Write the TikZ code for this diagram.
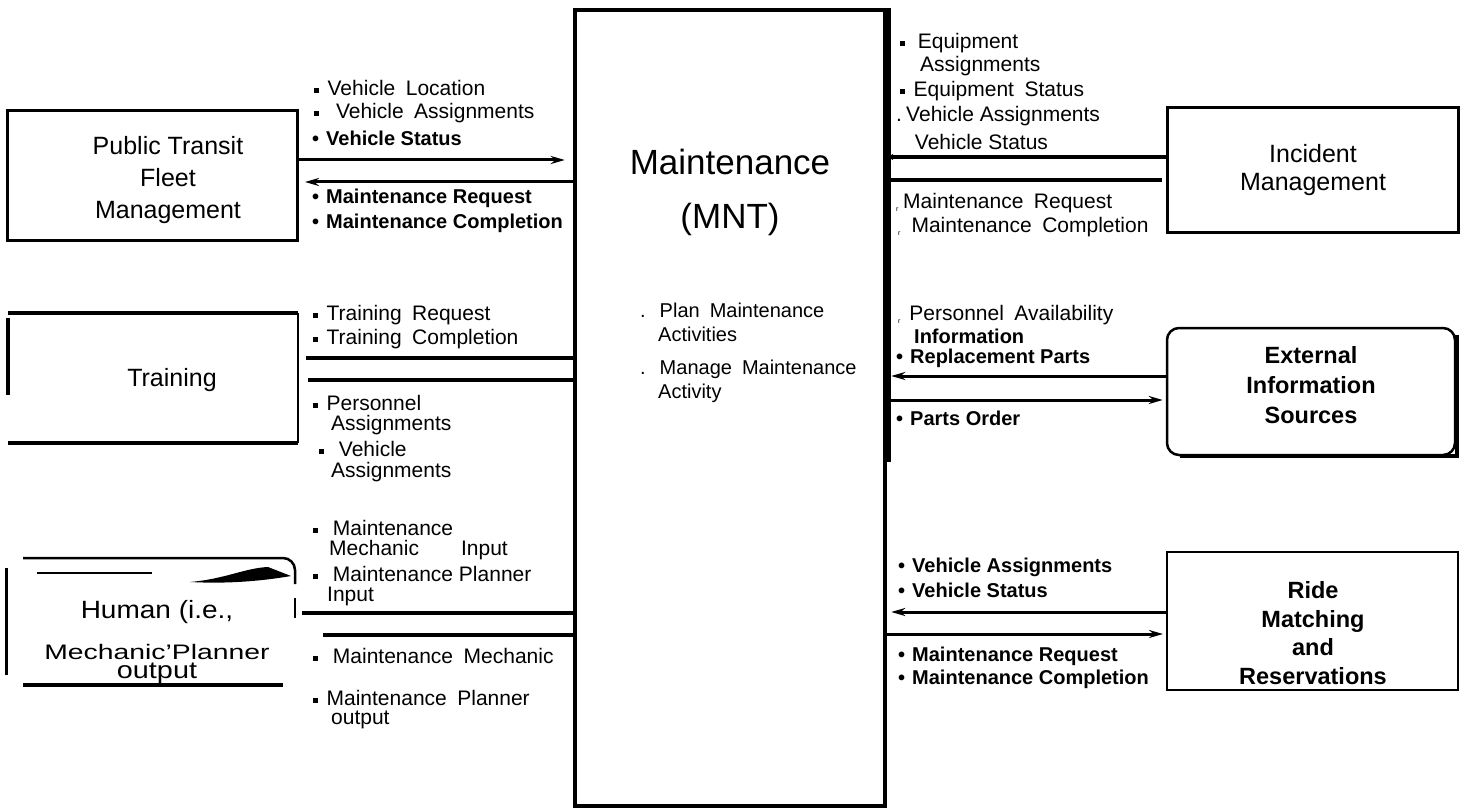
\documentclass[tikz,border=0pt]{standalone}
\usepackage{fontspec}
\setmainfont{Liberation Sans}
\usetikzlibrary{arrows.meta}
\newcommand{\sqb}{\rule[0.12em]{0.24em}{0.24em}\hspace{0.4em}}
\newcommand{\rdb}{\textbullet\hspace{0.35em}}
\begin{document}
\begin{tikzpicture}[x=1pt,y=-1pt,
  box/.style={draw, line width=3pt, inner sep=0pt},
  ttl/.style={inner sep=0pt, align=center, font=\fontsize{25}{32}\selectfont},
  bttl/.style={inner sep=0pt, align=center, font=\fontsize{23.5}{30}\selectfont\bfseries},
  lbl/.style={anchor=west, inner sep=0pt, align=left, font=\fontsize{21}{25}\selectfont},
  blbl/.style={anchor=west, inner sep=0pt, font=\fontsize{20}{24}\selectfont\bfseries},
  flow/.style={line width=3pt, -{Stealth[length=14pt,width=8pt]}},
  bar/.style={line width=4pt}]
\useasboundingbox (0,0) rectangle (1467,810);
\fill[white] (0,0) rectangle (1467,810);

% central box
\node[draw, line width=4.5pt, minimum width=310pt, minimum height=796pt, inner sep=0pt] (mnt) at (730,408) {};
\draw[line width=7pt] (mnt.north east) -- (mnt.east |- 0,462);
\node[inner sep=0pt, align=center, font=\fontsize{35}{54}\selectfont] (mnttitle) at (730,192) {Maintenance\\(MNT)};
\node[lbl, font=\fontsize{20}{23}\selectfont] (p1) at (640,310) {.\hspace{0.7em}Plan\hspace{0.5em}Maintenance};
\node[lbl, font=\fontsize{20}{23}\selectfont] (p1b) at (658,334) {Activities};
\node[lbl, font=\fontsize{20}{23}\selectfont] (p2) at (640,369) {.\hspace{0.7em}Manage\hspace{0.5em}Maintenance};
\node[lbl, font=\fontsize{20}{23}\selectfont] (p2b) at (658,393) {Activity};

% Public Transit Fleet Management
\node[box, minimum width=290pt, minimum height=130pt] (ptfm) at (152.5,176) {};
\node[ttl] (ptfmt) at (168,180) {Public Transit\\Fleet\\Management};
\draw[flow] (ptfm.east |- 0,160) -- ([xshift=-8pt]mnt.west |- 0,160);
\draw[flow] (mnt.west |- 0,182) -- ([xshift=6pt]ptfm.east |- 0,182);
\node[lbl] (l1) at (314,88) {\sqb Vehicle\hspace{0.5em}Location};
\node[lbl] (l2) at (314,113) {\sqb\hspace{0.4em}Vehicle\hspace{0.5em}Assignments};
\node[blbl] (l3) at (312,138) {\rdb Vehicle Status};
\node[blbl] (l4) at (312,198) {\rdb Maintenance Request};
\node[blbl] (l5) at (312,223) {\rdb Maintenance Completion};

% Training
\node[minimum width=290pt, minimum height=130pt, inner sep=0pt] (train) at (153,378) {};
\draw[line width=4pt] (train.north west) -- (train.north east);
\draw[line width=4pt] (train.south west) -- (train.south east);
\draw[line width=2pt] (train.north east) -- (train.south east);
\draw[line width=3.5pt] (train.west |- 0,318) -- (train.west |- 0,395);
\node[ttl] (traint) at (172,380) {Training};
\draw[bar] ([xshift=8pt]train.east |- 0,358) -- (mnt.west |- 0,358);
\draw[bar] ([xshift=10pt]train.east |- 0,380) -- (mnt.west |- 0,380);
\node[lbl] (t1) at (313,315) {\sqb Training\hspace{0.5em}Request};
\node[lbl] (t2) at (313,339) {\sqb Training\hspace{0.5em}Completion};
\node[lbl] (t3) at (313,403) {\sqb Personnel};
\node[lbl] (t3b) at (331,425) {Assignments};
\node[lbl] (t4) at (319,449) {\sqb\hspace{0.3em}Vehicle};
\node[lbl] (t4b) at (331,472) {Assignments};

% Human
\node[minimum width=290pt, minimum height=130pt, inner sep=0pt] (human) at (152,620) {};
\draw[line width=3pt] (human.west |- 0,568) -- (human.west |- 0,675);
\draw[line width=2.5pt, rounded corners=12pt] (23,558) -- (295,558) -- (295,584);
\draw[line width=2pt] (295,598) -- (295,618);
\draw[line width=3.5pt] (23,685) -- (283,685);
\draw[line width=2pt] (37,573) -- (152,573);
\fill (190,582) .. controls (225,579) and (245,568) .. (268,567) -- (291,576) .. controls (262,581) and (228,584) .. (190,582) -- cycle;
\node[inner sep=0pt, font=\fontsize{25}{25}\selectfont] (humant) at (157,612) {\scalebox{1.12}[1]{Human (i.e.,}};
\node[inner sep=0pt, align=center, font=\fontsize{21}{19}\selectfont] (humant2) at (157,664) {\scalebox{1.35}[1]{Mechanic’Planner}\\\scalebox{1.2}[1]{\fontsize{24}{19}\selectfont output}};
\draw[bar] ([xshift=5pt]human.east |- 0,613) -- (mnt.west |- 0,613);
\draw[bar] ([xshift=26pt]human.east |- 0,635) -- (mnt.west |- 0,635);
\node[lbl] (h1) at (313,528) {\sqb\hspace{0.3em}Maintenance};
\node[lbl] (h1b) at (329,550) {Mechanic\hspace{2em}Input};
\node[lbl, font=\fontsize{21}{20}\selectfont] (h2) at (313,586) {\sqb\hspace{0.3em}Maintenance Planner\\\hspace{14pt}Input};
\node[lbl] (h3) at (313,656) {\sqb\hspace{0.3em}Maintenance\hspace{0.5em}Mechanic};
\node[lbl] (h4) at (313,698) {\sqb Maintenance\hspace{0.5em}Planner};
\node[lbl] (h4b) at (331,720) {output};

% Incident Management
\node[box, minimum width=291pt, minimum height=125pt] (inc) at (1312.5,170) {};
\node[ttl, font=\fontsize{25}{28}\selectfont] (inct) at (1313,170) {Incident\\Management};
\draw[bar, -{Stealth[length=6pt,width=6pt]}] (inc.west |- 0,157) -- (mnt.east |- 0,157);
\draw[bar] (mnt.east |- 0,180) -- ([xshift=-4pt]inc.west |- 0,180);
\node[lbl] (r1) at (900,43) {\sqb\hspace{0.2em}Equipment};
\node[lbl] (r1b) at (920,66) {Assignments};
\node[lbl] (r2) at (900,91) {\sqb Equipment\hspace{0.5em}Status};
\node[lbl] (r3) at (896,116) {.\hspace{0.2em}Vehicle Assignments};
\node[lbl] (r4) at (900,142) {\hspace{0.7em}Vehicle Status};
\node[lbl] (r5) at (896,203) {\textsubscript{\scriptsize r}\hspace{0.2em}Maintenance\hspace{0.5em}Request};
\node[lbl] (r6) at (898,227) {\textsubscript{\scriptsize r}\hspace{0.5em}Maintenance\hspace{0.5em}Completion};

% External Information Sources
\draw[line width=4pt] (1457,335) -- (1457,456) -- (1180,456);
\node[draw, line width=2.5pt, rounded corners=12pt, minimum width=288pt, minimum height=127pt, inner sep=0pt] (ext) at (1311,391.5) {};
\node[bttl] (extt) at (1311,385) {External\\Information\\Sources};
\draw[flow] (ext.west |- 0,376) -- ([xshift=4pt]mnt.east |- 0,376);
\draw[flow] (mnt.east |- 0,400) -- ([xshift=-3pt]ext.west |- 0,400);
\node[lbl] (e1) at (898,315) {\textsubscript{\scriptsize r}\hspace{0.4em}Personnel\hspace{0.5em}Availability};
\node[blbl] (e1b) at (914,336) {Information};
\node[blbl] (e2) at (896,358) {\rdb Replacement Parts};
\node[blbl] (e3) at (896,418) {\rdb Parts Order};

% Ride Matching and Reservations
\node[draw, line width=2pt, minimum width=291pt, minimum height=138pt, inner sep=0pt] (ride) at (1312.5,621) {};
\node[bttl, font=\fontsize{23.5}{28.5}\selectfont\bfseries] (ridet) at (1313,633) {Ride\\Matching\\and\\Reservations};
\draw[flow] (ride.west |- 0,612) -- ([xshift=4pt]mnt.east |- 0,612);
\draw[flow] (mnt.east |- 0,634) -- ([xshift=-3pt]ride.west |- 0,634);
\node[blbl] (d1) at (898,567) {\rdb Vehicle Assignments};
\node[blbl] (d2) at (898,590) {\rdb Vehicle Status};
\node[blbl] (d3) at (898,656) {\rdb Maintenance Request};
\node[blbl] (d4) at (898,679) {\rdb Maintenance Completion};
\end{tikzpicture}
\end{document}
